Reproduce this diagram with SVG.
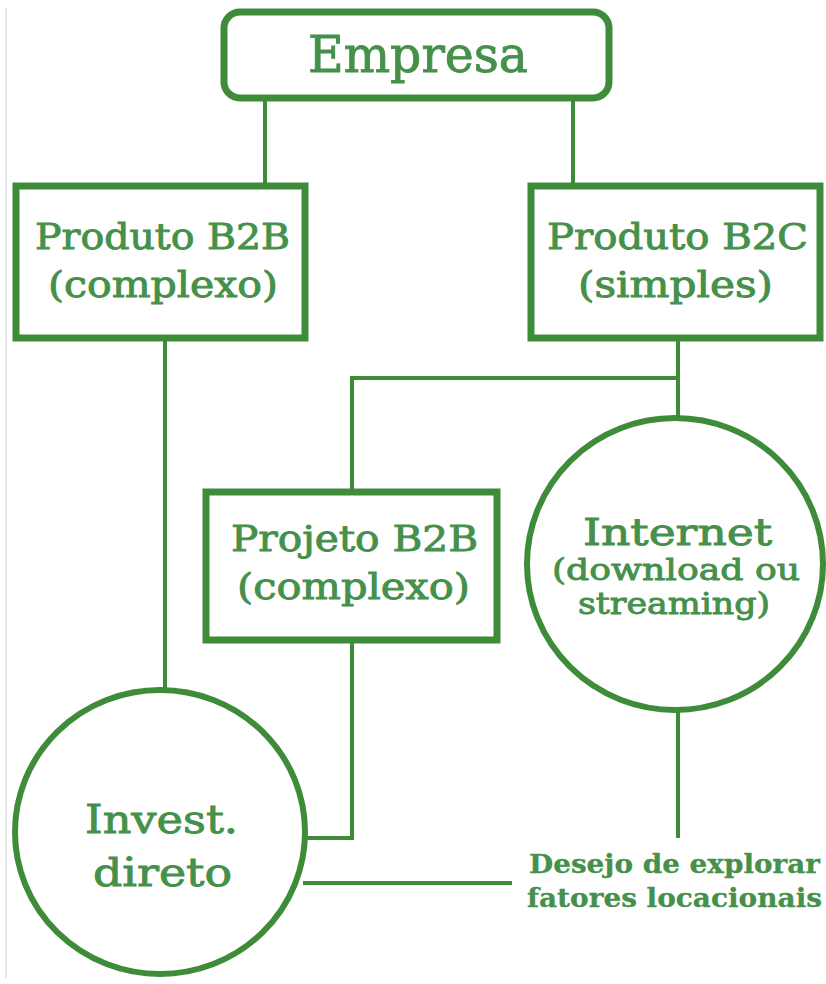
<svg xmlns="http://www.w3.org/2000/svg" width="826" height="984" viewBox="0 0 826 984">
<style>
.box{fill:#fff;stroke:#3e8b39;stroke-width:7}
.circ{fill:#fff;stroke:#3e8b39;stroke-width:6}
.ln{fill:none;stroke:#3e8b39;stroke-width:4}
text{font-family:"DejaVu Serif","Liberation Serif",serif;fill:#45904a;stroke:#45904a;stroke-width:0.9}
.t{font-size:35px}
.b{font-size:26px;font-weight:bold;stroke-width:0.3}
</style>
<rect width="826" height="984" fill="#fff"/>
<line x1="6" y1="8" x2="6" y2="978" stroke="#e2e2e2" stroke-width="1.5"/>
<g id="connectors">
<path class="ln" d="M265 100V186"/>
<path class="ln" d="M573 100V186"/>
<path class="ln" d="M165 338V692"/>
<path class="ln" d="M678 338V420"/>
<path class="ln" d="M678 378H352V492"/>
<path class="ln" d="M352 640V838H303"/>
<path class="ln" d="M678 710V838"/>
<path class="ln" d="M303 883H512"/>
</g>
<g id="empresa">
<rect class="box" x="224" y="12" width="385" height="86" rx="16" stroke-width="6"/>
<text x="308" y="72" font-size="50" stroke-width="0.4" textLength="220" lengthAdjust="spacingAndGlyphs">Empresa</text>
</g>
<g id="produto-b2b">
<rect class="box" x="16" y="186" width="289" height="152"/>
<text class="t" x="35" y="249" textLength="255" lengthAdjust="spacingAndGlyphs">Produto B2B</text>
<text class="t" x="48" y="297" textLength="230" lengthAdjust="spacingAndGlyphs">(complexo)</text>
</g>
<g id="produto-b2c">
<rect class="box" x="531" y="186" width="289" height="152"/>
<text class="t" x="547" y="249" textLength="261" lengthAdjust="spacingAndGlyphs">Produto B2C</text>
<text class="t" x="578" y="297" textLength="195" lengthAdjust="spacingAndGlyphs">(simples)</text>
</g>
<g id="projeto-b2b">
<rect class="box" x="206" y="492" width="291" height="148"/>
<text class="t" x="231" y="551" textLength="247" lengthAdjust="spacingAndGlyphs">Projeto B2B</text>
<text class="t" x="237" y="599" textLength="233" lengthAdjust="spacingAndGlyphs">(complexo)</text>
</g>
<g id="internet">
<ellipse class="circ" cx="675" cy="564" rx="148" ry="146"/>
<text x="583" y="545" font-size="38" textLength="189" lengthAdjust="spacingAndGlyphs">Internet</text>
<text x="552" y="580" font-size="30" textLength="248" lengthAdjust="spacingAndGlyphs">(download ou</text>
<text x="578" y="614" font-size="30" textLength="192" lengthAdjust="spacingAndGlyphs">streaming)</text>
</g>
<g id="invest">
<ellipse class="circ" cx="160" cy="832" rx="145" ry="142"/>
<text x="85" y="833" font-size="40" textLength="153" lengthAdjust="spacingAndGlyphs">Invest.</text>
<text x="93" y="886" font-size="40" textLength="139" lengthAdjust="spacingAndGlyphs">direto</text>
</g>
<g id="desejo">
<text class="b" x="529" y="873" textLength="291" lengthAdjust="spacingAndGlyphs">Desejo de explorar</text>
<text class="b" x="527" y="907" textLength="295" lengthAdjust="spacingAndGlyphs">fatores locacionais</text>
</g>
</svg>
